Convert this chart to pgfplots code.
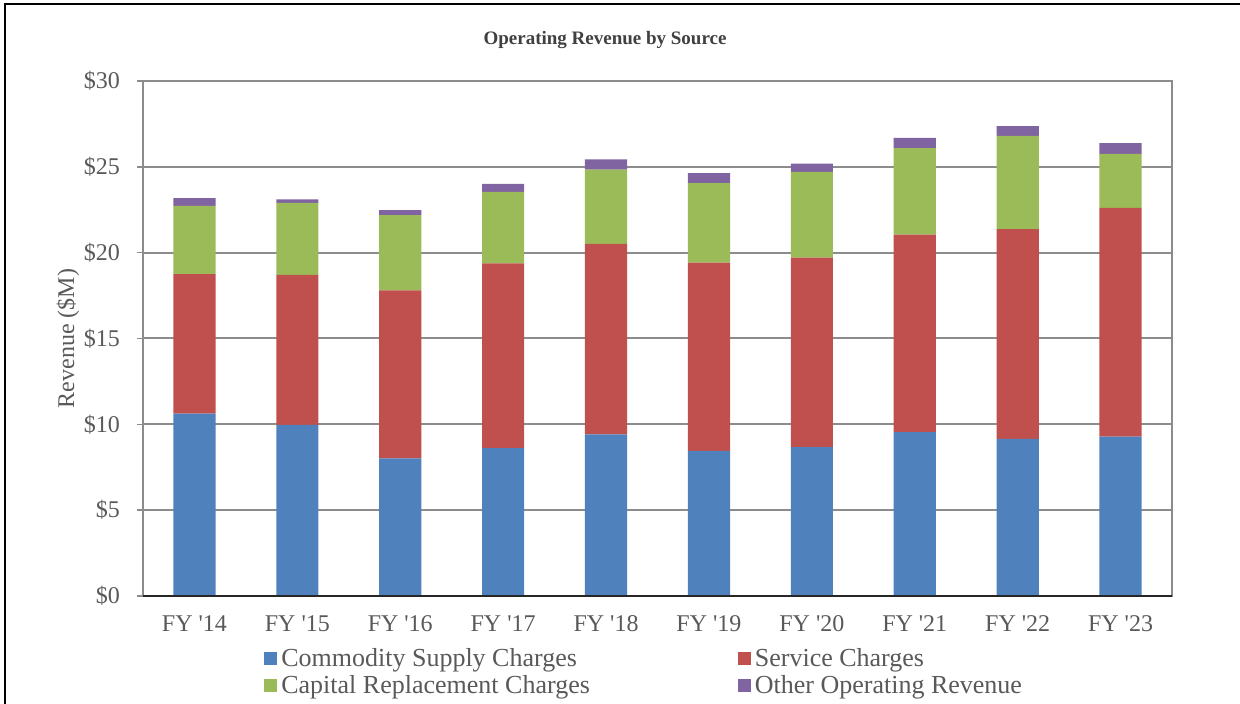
\documentclass[border=0pt]{standalone}
\usepackage{fontspec}
\setmainfont{Liberation Serif}
\usepackage{pgfplots}
\pgfplotsset{compat=1.18}
\usepackage{pgfplotstable}

\definecolor{cBlue}{HTML}{4F81BD}
\definecolor{cRed}{HTML}{C0504D}
\definecolor{cGreen}{HTML}{9BBB59}
\definecolor{cPurple}{HTML}{8064A2}
\definecolor{txt}{HTML}{595959}
\definecolor{gridc}{HTML}{8C8C8C}

% revenue by source, $M
\pgfplotstableread{
x  commodity service capital other
0  10.62     8.13    3.98    0.45
1  9.97      8.74    4.19    0.20
2  8.02      9.79    4.38    0.29
3  8.61      10.76   4.17    0.47
4  9.42      11.09   4.33    0.59
5  8.45      10.97   4.63    0.58
6  8.67      11.04   5.00    0.48
7  9.54      11.51   5.04    0.60
8  9.15      12.22   5.44    0.56
9  9.28      13.33   3.15    0.62
}\revenue

\begin{document}
\begin{tikzpicture}
\useasboundingbox (0,0) rectangle (620pt,352pt);
\draw[black, line width=1pt] (2.5pt,-5pt) -- (2.5pt,350pt) -- (630pt,350pt);
\node[text=black!75, font=\fontsize{9.5}{11}\selectfont\bfseries] at (302.5pt,332pt) {Operating Revenue by Source};

\begin{axis}[
    at={(71.5pt,54pt)}, anchor=south west,
    scale only axis,
    width=514.5pt, height=257.5pt,
    ybar stacked,
    bar width=0.41,
    xmin=-0.5, xmax=9.5,
    ymin=0, ymax=30,
    xtick={0,...,9},
    xticklabels={FY \textquotesingle 14,FY \textquotesingle 15,FY \textquotesingle 16,FY \textquotesingle 17,FY \textquotesingle 18,FY \textquotesingle 19,FY \textquotesingle 20,FY \textquotesingle 21,FY \textquotesingle 22,FY \textquotesingle 23},
    ytick={0,5,...,30},
    yticklabel={\$\pgfmathprintnumber{\tick}},
    /pgf/number format/assume math mode=true,
    xtick pos=bottom, ytick pos=left,
    tick align=outside,
    x tick style={draw=none},
    y tick style={gridc, line width=0.8pt},
    major tick length=3pt,
    extra x ticks={-0.5,0.5,...,9.5},
    extra x tick labels={},
    extra x tick style={grid=none, major tick length=3.5pt,
        tick style={draw=black!85, line width=0.8pt}},
    ymajorgrids,
    grid style={gridc, line width=1pt},
    axis line style={gridc, line width=1pt},
    tick label style={text=txt, font=\fontsize{12}{14}\selectfont},
    xticklabel style={text height=9pt, text depth=2pt, yshift=-2pt},
    yticklabel style={xshift=-5pt},
    ylabel={Revenue (\$M)},
    ylabel style={text=txt, font=\fontsize{12}{14}\selectfont, at={(axis description cs:-0.073,0.5)}, anchor=center},
    legend style={at={(0.488,-0.085)}, anchor=north, draw=none, fill=none,
        legend columns=2, font=\fontsize{13}{13.5}\selectfont, text=txt,
        cells={anchor=west}, row sep=-1pt,
        /tikz/every even column/.append style={column sep=72pt}},
    legend image code/.code={\fill[#1] (0pt,-3.2pt) rectangle (6.5pt,3.3pt);},
    after end axis/.code={\draw[black!85, line width=0.8pt] (rel axis cs:0,0) -- (rel axis cs:1,0);},
]
\addplot[fill=cBlue, draw=none] table[x=x, y=commodity] {\revenue};
\addlegendentry{Commodity Supply Charges}
\addplot[fill=cRed, draw=none] table[x=x, y=service] {\revenue};
\addlegendentry{Service Charges}
\addplot[fill=cGreen, draw=none] table[x=x, y=capital] {\revenue};
\addlegendentry{Capital Replacement Charges}
\addplot[fill=cPurple, draw=none] table[x=x, y=other] {\revenue};
\addlegendentry{Other Operating Revenue}
\end{axis}
\end{tikzpicture}
\end{document}
